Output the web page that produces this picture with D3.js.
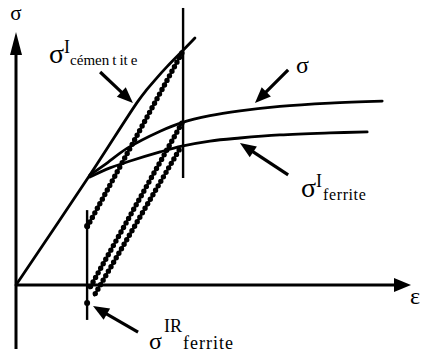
<!DOCTYPE html>
<html>
<head>
<meta charset="utf-8">
<script src="https://d3js.org/d3.v7.min.js"></script>
<style>
  body { margin: 0; background: #fff; }
  svg { display: block; }
  text { font-family: "Liberation Serif", "Times New Roman", serif; fill: #000; }
</style>
</head>
<body>
<div id="chart"></div>
<script>
const cementite = [[0, 0], [18.7, 43.5], [30.9, 72.7], [33.0, 77.0], [35.5, 81.6], [38.3, 86.4], [41.8, 92.0], [45.3, 97.6]];
const sigmaMacro = [[18.7, 43.5], [22.5, 47.6], [28.1, 54.0], [36.5, 60.8], [42.0, 64.2], [49.1, 66.9], [56.7, 68.8], [66.8, 70.6], [79.5, 71.9], [92.7, 72.7]];
const ferrite = [[18.7, 42.7], [23.8, 46.3], [28.9, 49.0], [36.5, 52.6], [42.0, 54.9], [49.1, 56.9], [56.7, 58.1], [66.8, 59.3], [79.5, 60.1], [88.9, 60.5]];
// elastic unloading paths (dotted)
const unloadCementite = [[42.0, 91.7], [18.0, 22.9]];
const unloadSigma = [[42.0, 64.0], [18.5, -1.6]];
const unloadFerrite = [[41.3, 53.4], [19.7, -4.4]];
// vertical markers: loading strain and residual strain
const loadStrain = 42.3, loadRange = [42.3, 109.5];
const residStrain = 18.0, residRange = [-13.8, 29.6];
const residPoints = [23.3, -7.1];
// annotation arrows: [tail, tip]
const arrows = [
  [[21.3, 84.2], [29.6, 71.9]],
  [[68.9, 85.0], [60.5, 71.9]],
  [[68.9, 43.5], [56.7, 56.1]],
  [[30.9, -18.6], [19.5, -8.3]]
];

const width = 428, height = 354;
const svg = d3.select("#chart").append("svg")
  .attr("width", width).attr("height", height);

const x = d3.scaleLinear().domain([0, 100]).range([16, 411]);
const y = d3.scaleLinear().domain([0, 100]).range([285, 32]);

function arrow(x1, y1, x2, y2, len, half, sw) {
  const dx = x2 - x1, dy = y2 - y1, d = Math.hypot(dx, dy);
  const ux = dx / d, uy = dy / d;
  const bx = x2 - ux * len, by = y2 - uy * len;
  svg.append("line")
    .attr("x1", x1).attr("y1", y1).attr("x2", bx + ux * 2).attr("y2", by + uy * 2)
    .attr("stroke", "#000").attr("stroke-width", sw);
  svg.append("polygon")
    .attr("points", [[x2, y2], [bx - uy * half, by + ux * half], [bx + uy * half, by - ux * half]].join(" "))
    .attr("fill", "#000");
}

// axes
arrow(x(0), y(-25.3), x(0), y(100), 23, 6, 3);
arrow(x(0), y(0), x(100), y(0), 17, 7, 3);

const line = d3.line().x(d => x(d[0])).y(d => y(d[1])).curve(d3.curveCatmullRom.alpha(0.5));

[cementite, sigmaMacro, ferrite].forEach(s => {
  svg.append("path").attr("d", line(s))
    .attr("fill", "none").attr("stroke", "#000")
    .attr("stroke-width", 2.8).attr("stroke-linecap", "round");
});

// vertical lines
svg.append("line")
  .attr("x1", x(loadStrain)).attr("x2", x(loadStrain))
  .attr("y1", y(loadRange[0])).attr("y2", y(loadRange[1]))
  .attr("stroke", "#000").attr("stroke-width", 2.4);
svg.append("line")
  .attr("x1", x(residStrain)).attr("x2", x(residStrain))
  .attr("y1", y(residRange[0])).attr("y2", y(residRange[1]))
  .attr("stroke", "#000").attr("stroke-width", 2.4);
svg.selectAll(".rp").data(residPoints).enter().append("circle")
  .attr("cx", x(residStrain)).attr("cy", d => y(d)).attr("r", 3).attr("fill", "#000");

// dotted unloading lines
const straight = d3.line().x(d => x(d[0])).y(d => y(d[1]));
[unloadCementite, unloadSigma, unloadFerrite].forEach(s => {
  svg.append("path").attr("d", straight(s))
    .attr("stroke", "#000").attr("stroke-width", 2);
  svg.append("path").attr("d", straight(s))
    .attr("stroke", "#000").attr("stroke-width", 5.4)
    .attr("stroke-linecap", "round").attr("stroke-dasharray", "0,5.2");
});

// annotation arrows
arrows.forEach(a => arrow(x(a[0][0]), y(a[0][1]), x(a[1][0]), y(a[1][1]), 16, 6.5, 3.2));

// labels
svg.append("text").attr("x", 16).attr("y", 20).attr("text-anchor", "middle")
  .attr("font-size", 21).text("σ");
svg.append("text").attr("x", 410).attr("y", 304).attr("font-size", 24).text("ε");

let t = svg.append("text").attr("x", 49).attr("y", 63);
t.append("tspan").attr("font-size", 28).text("σ");
t.append("tspan").attr("font-size", 18).attr("dx", 0).attr("dy", -10).text("I");
t.append("tspan").attr("font-size", 15).attr("dy", 12).text("cémen");
t.append("tspan").attr("font-size", 15).attr("dx", 3).text("t");
t.append("tspan").attr("font-size", 15).attr("dx", 3).text("it");
t.append("tspan").attr("font-size", 15).attr("dx", 3).text("e");

svg.append("text").attr("x", 296).attr("y", 73).attr("font-size", 24).text("σ");

t = svg.append("text").attr("x", 301).attr("y", 197);
t.append("tspan").attr("font-size", 28).text("σ");
t.append("tspan").attr("font-size", 18).attr("dx", 0).attr("dy", -10).text("I");
t.append("tspan").attr("font-size", 16).attr("dx", 1).attr("dy", 13).attr("letter-spacing", 0.6).text("ferrite");

t = svg.append("text").attr("x", 149).attr("y", 349);
t.append("tspan").attr("font-size", 24).text("σ");
t.append("tspan").attr("font-size", 18).attr("dx", 2).attr("dy", -17).text("IR");
t.append("tspan").attr("font-size", 18).attr("dx", 1).attr("dy", 17).attr("letter-spacing", 1).text("ferrite");
</script>
</body>
</html>
